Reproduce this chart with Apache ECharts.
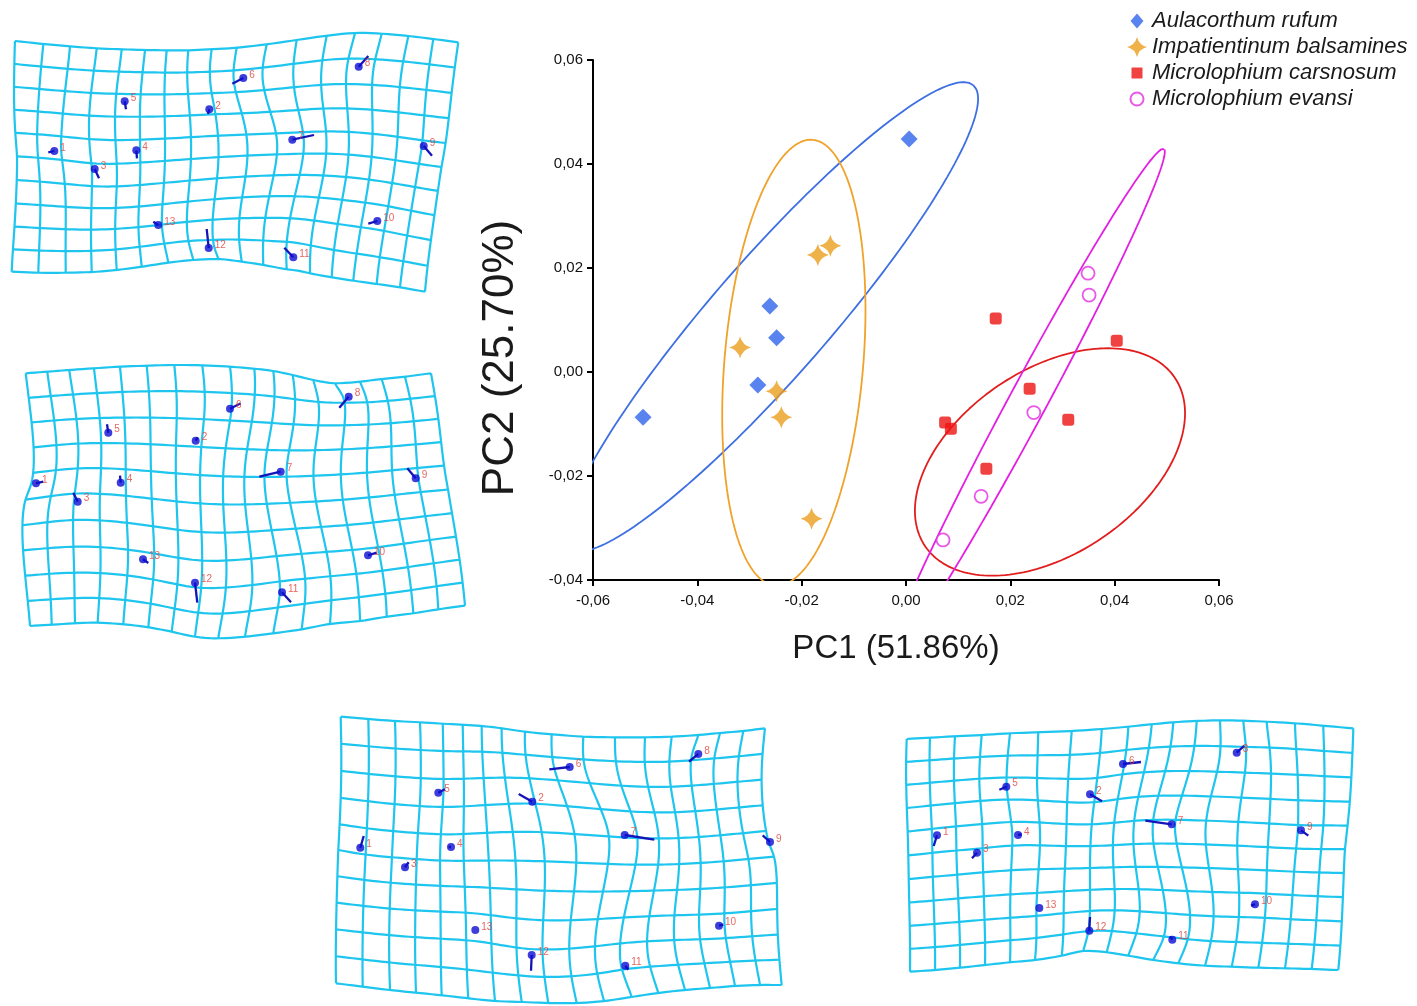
<!DOCTYPE html>
<html><head><meta charset="utf-8">
<script src="https://cdn.jsdelivr.net/npm/echarts/dist/echarts.min.js"></script>
<style>html,body{margin:0;padding:0;background:#fff}#c{width:1417px;height:1006px}</style>
</head><body><div id="c"></div>
<script>
// ---------- PCA scatter: [PC1, PC2] ----------
const seriesNames = ['Aulacorthum rufum', 'Impatientinum balsamines', 'Microlophium carsnosum', 'Microlophium evansi'];
const aulacorthum = [[0.0006,0.0448],[-0.0261,0.0127],[-0.0248,0.0066],[-0.0284,-0.0025],[-0.0504,-0.0087]];
const impatientinum = [[-0.0145,0.0243],[-0.0169,0.0225],[-0.0318,0.0047],[-0.0248,-0.0037],[-0.0239,-0.0087],[-0.0181,-0.0282]];
const carsnosum = [[0.0172,0.0103],[0.0404,0.0060],[0.0237,-0.0032],[0.0075,-0.0097],[0.0086,-0.0109],[0.0311,-0.0092],[0.0154,-0.0186]];
const evansi = [[0.0349,0.0190],[0.0351,0.0148],[0.0245,-0.0078],[0.0144,-0.0239],[0.0071,-0.0323]];
// confidence ellipses: [centre PC1, centre PC2, semi-major, semi-minor, angle (deg)]
const ellipseAulacorthum = [-0.0258, 0.0106, 0.059, 0.0112, 49];
const ellipseImpatientinum = [-0.0215, 0.0018, 0.043, 0.0133, 85.2];
const ellipseCarsnosum = [0.0276, -0.0173, 0.0289, 0.0177, 34.2];
const ellipseEvansi = [0.0232, -0.0060, 0.0555, 0.0036, 61.8];
const xTicks = [-0.06, -0.04, -0.02, 0, 0.02, 0.04, 0.06];
const yTicks = [-0.04, -0.02, 0, 0.02, 0.04, 0.06];

// ---------- deformation grids (values read in each panel's own frame) ----------
const p1Top = [[15,41],[43.3,44],[70,46.3],[96.7,48.3],[121.7,49.3],[145,50],[166.7,50.3],[188.3,50.3],[211.7,49.3],[236.7,47.7],[266.7,44.3],[296.7,40],[326.7,35.7],[355,33],[381.7,33.7],[408.3,36],[433.3,39],[458.3,42.3]];
const p1Bottom = [[11.7,271.7],[38.3,272.7],[65.7,272.7],[91.7,272],[116.7,270],[141.7,266.7],[168.3,262.7],[193.3,260],[218.3,259],[241.7,261.7],[263.3,265],[286.7,269.3],[310,273.3],[331.7,277.3],[353.3,280.7],[376.7,284],[400,287.3],[425,291.7]];
const p1Sides = [[17,156.4],[441.5,167]];
const p1Dots = [[54.3,151],[209.3,109.3],[94.7,169],[136.3,150.3],[124.7,101.3],[243.3,78],[292.3,139.7],[358.7,66.7],[423.7,146],[377.3,221],[293.3,257.3],[208.7,248],[158.3,225]];
const p1Ends = [[48.3,152.3],[208,114],[99,178.3],[137,158.3],[126,109.3],[232.3,83.7],[314,135],[368.3,56],[432,155.7],[368.3,223.7],[284.3,247.7],[206.7,229],[153.3,221.7]];

const p2Top = [[25.7,373.3],[47.3,371.7],[69.3,370],[94,368.3],[120,366.7],[146.7,365.7],[174.3,365],[202.3,365.3],[230,366.7],[254.3,368.7],[273.3,371],[292.7,375],[313.3,380],[335,383.3],[360,381.7],[381.7,379],[405,376.7],[431,373.3]];
const p2Bottom = [[30,626],[51.7,624.7],[75,623.3],[97.7,622.7],[123.3,624.3],[148.3,627.3],[171.7,631.7],[195,636.7],[218.3,638.3],[245,636.7],[273.3,633.3],[301.7,629.3],[330,624],[360,621],[386.7,616.7],[413.3,613.3],[438.3,609.3],[465,605.7]];
const p2Sides = [[25.5,499.7],[448,489.5]];
const p2Dots = [[36,483.3],[195.7,440.7],[77.7,501.7],[120.7,482.7],[108.3,432.7],[230,408.7],[280.7,471.7],[348.7,396.7],[415.7,478.3],[368,555.3],[282,592.3],[195,582.7],[143,559.3]];
const p2Ends = [[43.3,481.7],[197.7,437.3],[73.3,492.7],[120,475.7],[107,424.3],[240.7,403.3],[259.3,476.7],[339.3,407.7],[407.3,468.3],[376.7,552.7],[291,602.3],[197.3,602.7],[148.3,563]];

const p3Top = [[340.7,716.7],[368.3,719],[395,721],[420,722.3],[442.7,723.7],[462.7,724.7],[481.7,726],[501.7,728.3],[525,731.7],[551.7,734.3],[583.3,736.7],[615,737.3],[645,737.3],[671.7,736.7],[698.3,735],[720,733],[743.3,731],[765,728.3]];
const p3Bottom = [[336,983.3],[362.7,986.7],[390,990],[416,992.7],[441.7,995.3],[468.3,998.3],[495,1001],[521.7,1002],[548.3,1003],[576.7,1003],[604,1001],[631.7,997],[658.3,993],[685,990],[710,988],[735,986],[760,985],[781.7,985]];
const p3Sides = [[338.3,850],[774,856.7]];
const p3Dots = [[360.3,847.7],[532.3,801.7],[405,867.3],[451,847],[438.3,792.7],[569.7,767],[624.7,835],[698.3,754],[770,842],[719,925.7],[625.3,965.7],[531.7,955],[475.3,930]];
const p3Ends = [[363.7,836],[518.7,794],[408.7,862.3],[448.7,847],[445,789.3],[549.3,769.3],[654.3,839.7],[689,761.7],[762.7,835.3],[723.3,924.7],[628.3,969.7],[531,970.7],[475.3,930]];

const p4Top = [[906.7,739],[930,737.7],[955,736.3],[981.7,735],[1010,733.3],[1038.3,732.3],[1071.7,731],[1101.7,729],[1128.3,726.7],[1151.7,724.3],[1173.3,722.3],[1196.7,721],[1220,720.3],[1243.3,720.7],[1266.7,721.7],[1295,723.3],[1323.3,725.7],[1353.3,728.3]];
const p4Bottom = [[910,971.7],[935,970],[960,967.7],[985,965],[1010,962.3],[1035,960],[1061.7,955.7],[1083.3,951],[1106.7,952.3],[1128.3,955.7],[1153.3,960],[1178.3,963.3],[1205,965.7],[1231.7,966.7],[1258.3,967.7],[1285,968.3],[1311.7,969],[1338.3,970]];
const p4Sides = [[908.3,855.4],[1345,849.2]];
const p4Dots = [[937,835.3],[1090,794.3],[977,852.7],[1018,835],[1006.3,786.7],[1123,764],[1171.7,824.3],[1236.7,752.7],[1301,830.3],[1255,904.3],[1172.3,939.7],[1089.3,930.7],[1039.3,908]];
const p4Ends = [[933.7,846],[1102,801.3],[972,858.3],[1021.7,834.3],[999.3,789.7],[1141,762],[1145.3,820.7],[1244.3,745.7],[1308.3,835.7],[1251,905.7],[1170,936.3],[1090,917],[1039.3,908]];

const GRID_ROWS = 10;
const STICK_GAIN = 0.6;

// ---------- thin-plate spline ----------
function solveLinear(A, rhs) {
  const n = A.length, m = rhs.length;
  const M = A.map((row, i) => row.concat(rhs.map(v => v[i])));
  for (let c = 0; c < n; c++) {
    let p = c;
    for (let r = c + 1; r < n; r++) if (Math.abs(M[r][c]) > Math.abs(M[p][c])) p = r;
    const t = M[c]; M[c] = M[p]; M[p] = t;
    const piv = M[c][c];
    for (let r = 0; r < n; r++) {
      if (r === c) continue;
      const f = M[r][c] / piv;
      if (f === 0) continue;
      for (let k = c; k < n + m; k++) M[r][k] -= f * M[c][k];
    }
  }
  return rhs.map((_, j) => M.map((row, i) => row[n + j] / row[i]));
}
function makeTPS(src, dst) {
  const n = src.length, S = 100, ox = src[0][0], oy = src[0][1];
  const s = src.map(p => [(p[0] - ox) / S, (p[1] - oy) / S]);
  const U = r2 => r2 > 1e-12 ? r2 * Math.log(r2) : 0;
  const N = n + 3, A = [];
  for (let i = 0; i < N; i++) A.push(new Array(N).fill(0));
  for (let i = 0; i < n; i++) {
    for (let j = 0; j < n; j++) {
      const dx = s[i][0] - s[j][0], dy = s[i][1] - s[j][1];
      A[i][j] = U(dx * dx + dy * dy);
    }
    A[i][n] = 1; A[i][n + 1] = s[i][0]; A[i][n + 2] = s[i][1];
    A[n][i] = 1; A[n + 1][i] = s[i][0]; A[n + 2][i] = s[i][1];
  }
  const bx = dst.map(p => p[0]).concat([0, 0, 0]);
  const by = dst.map(p => p[1]).concat([0, 0, 0]);
  const [wx, wy] = solveLinear(A, [bx, by]);
  return (x, y) => {
    const px = (x - ox) / S, py = (y - oy) / S;
    let fx = wx[n] + wx[n + 1] * px + wx[n + 2] * py;
    let fy = wy[n] + wy[n + 1] * px + wy[n + 2] * py;
    for (let i = 0; i < n; i++) {
      const dx = px - s[i][0], dy = py - s[i][1];
      const u = U(dx * dx + dy * dy);
      fx += wx[i] * u; fy += wy[i] * u;
    }
    return [fx, fy];
  };
}
function gridLines(panel) {
  const [L, T, R, B] = panel.rect;
  const nc = panel.top.length - 1;
  const src = [], dst = [];
  panel.top.forEach((p, i) => { src.push([L + (R - L) * i / nc, T]); dst.push(p); });
  panel.bottom.forEach((p, i) => { src.push([L + (R - L) * i / nc, B]); dst.push(p); });
  src.push([L, (T + B) / 2]); dst.push(panel.sides[0]);
  src.push([R, (T + B) / 2]); dst.push(panel.sides[1]);
  panel.dots.forEach((d, i) => {
    const e = panel.ends[i];
    src.push([d[0] - STICK_GAIN * (e[0] - d[0]), d[1] - STICK_GAIN * (e[1] - d[1])]);
    dst.push(d);
  });
  const f = makeTPS(src, dst);
  const out = [], K = 80;
  for (let r = 0; r <= GRID_ROWS; r++) {
    const y = T + (B - T) * r / GRID_ROWS, c = [];
    for (let k = 0; k <= K; k++) c.push(f(L + (R - L) * k / K, y));
    out.push({ coords: c });
  }
  for (let q = 0; q <= nc; q++) {
    const x = L + (R - L) * q / nc, c = [];
    for (let k = 0; k <= K; k++) c.push(f(x, T + (B - T) * k / K));
    out.push({ coords: c });
  }
  return out;
}
function ellipsePoints(e) {
  const [cx, cy, a, b, deg] = e, th = deg * Math.PI / 180, pts = [];
  for (let k = 0; k <= 360; k += 2) {
    const t = k * Math.PI / 180;
    pts.push([cx + a * Math.cos(t) * Math.cos(th) - b * Math.sin(t) * Math.sin(th),
              cy + a * Math.cos(t) * Math.sin(th) + b * Math.sin(t) * Math.cos(th)]);
  }
  return pts;
}

const panels = [
  { top: p1Top, bottom: p1Bottom, sides: p1Sides, dots: p1Dots, ends: p1Ends, rect: [14, 43, 442, 273], box: [0, 25, 470, 280] },
  { top: p2Top, bottom: p2Bottom, sides: p2Sides, dots: p2Dots, ends: p2Ends, rect: [27, 372, 448, 626], box: [10, 355, 470, 290] },
  { top: p3Top, bottom: p3Bottom, sides: p3Sides, dots: p3Dots, ends: p3Ends, rect: [338, 729, 773, 993], box: [325, 700, 470, 306] },
  { top: p4Top, bottom: p4Bottom, sides: p4Sides, dots: p4Dots, ends: p4Ends, rect: [908, 728, 1345, 963], box: [895, 710, 470, 275] }
];

const FONT = "'Liberation Sans', Arial, Helvetica, sans-serif";
const fmt = v => (Math.abs(v) < 1e-9 ? 0 : v).toFixed(2).replace('.', ',');

const grids = [{ left: 593, top: 60, width: 626, height: 520 }];
const xAxes = [{
  type: 'value', gridIndex: 0, min: xTicks[0], max: xTicks[xTicks.length - 1], interval: 0.02,
  axisLine: { show: true, onZero: false, lineStyle: { color: '#000', width: 2 } },
  axisTick: { show: true, length: 6, lineStyle: { color: '#000', width: 2 } },
  axisLabel: { formatter: fmt, fontSize: 15, color: '#111', margin: 13, fontFamily: FONT },
  splitLine: { show: false },
  name: 'PC1 (51.86%)', nameLocation: 'middle', nameGap: 52,
  nameTextStyle: { fontSize: 33, color: '#1a1a1a', fontFamily: FONT, padding: [0, 20, 0, 0] }
}];
const yAxes = [{
  type: 'value', gridIndex: 0, min: yTicks[0], max: yTicks[yTicks.length - 1], interval: 0.02,
  axisLine: { show: true, onZero: false, lineStyle: { color: '#000', width: 2 } },
  axisTick: { show: true, length: 6, lineStyle: { color: '#000', width: 2 } },
  axisLabel: { formatter: fmt, fontSize: 15, color: '#111', margin: 10, fontFamily: FONT },
  splitLine: { show: false },
  name: 'PC2 (25.70%)', nameLocation: 'middle', nameGap: 70, nameRotate: 90,
  nameTextStyle: { fontSize: 44, color: '#1a1a1a', fontFamily: FONT, padding: [0, 76, 0, 0] }
}];

const series = [];
const ellipses = [
  [ellipseAulacorthum, '#3d6fe3'], [ellipseImpatientinum, '#f0a22a'],
  [ellipseCarsnosum, '#e21d1d'], [ellipseEvansi, '#e31fe3']
];
ellipses.forEach(([e, col], i) => series.push({
  type: 'line', name: 'ellipse' + i, xAxisIndex: 0, yAxisIndex: 0, data: ellipsePoints(e),
  showSymbol: false, symbol: 'none', clip: true, silent: true, z: 2,
  lineStyle: { color: col, width: 1.8 }
}));
const STAR = 'path://M10,0 Q12,8 20,10 Q12,12 10,20 Q8,12 0,10 Q8,8 10,0 Z';
const LEG_DIAMOND = 'path://M0,0 M20,20 M10,2.5 L16.5,10 L10,17.5 L3.5,10 Z';
const LEG_SQUARE = 'path://M0,0 M20,20 M5,4.5 L15,4.5 Q15.5,4.5 15.5,5 L15.5,15 Q15.5,15.5 15,15.5 L5,15.5 Q4.5,15.5 4.5,15 L4.5,5 Q4.5,4.5 5,4.5 Z';
const LEG_CIRCLE = 'path://M0,0 M20,20 M16.5,10 A6.5,6.5 0 1 1 3.5,10 A6.5,6.5 0 1 1 16.5,10 Z';
series.push(
  { type: 'scatter', name: seriesNames[0], xAxisIndex: 0, yAxisIndex: 0, data: aulacorthum, symbol: 'diamond', symbolSize: [17, 17], itemStyle: { color: '#2f64ea' }, z: 4 },
  { type: 'scatter', name: seriesNames[1], xAxisIndex: 0, yAxisIndex: 0, data: impatientinum, symbol: STAR, symbolSize: [22, 22], itemStyle: { color: '#eb9d1c' }, z: 4 },
  { type: 'scatter', name: seriesNames[2], xAxisIndex: 0, yAxisIndex: 0, data: carsnosum, symbol: 'roundRect', symbolSize: [12, 12], itemStyle: { color: '#ee1313' }, z: 4 },
  { type: 'scatter', name: seriesNames[3], xAxisIndex: 0, yAxisIndex: 0, data: evansi, symbol: 'circle', symbolSize: 13, itemStyle: { color: '#ffffff', borderColor: '#e230e2', borderWidth: 1.8 }, z: 4 }
);

panels.forEach((p, k) => {
  const gi = k + 1;
  const [bl, bt, bw, bh] = p.box;
  grids.push({ left: bl, top: bt, width: bw, height: bh });
  xAxes.push({ type: 'value', gridIndex: gi, min: bl, max: bl + bw, show: false });
  yAxes.push({ type: 'value', gridIndex: gi, min: bt, max: bt + bh, inverse: true, show: false });
  series.push({
    type: 'lines', coordinateSystem: 'cartesian2d', xAxisIndex: gi, yAxisIndex: gi, polyline: true,
    data: gridLines(p), silent: true, z: 1,
    lineStyle: { color: '#1ec5ee', width: 2.2, opacity: 1 }
  });
  series.push({
    type: 'lines', coordinateSystem: 'cartesian2d', xAxisIndex: gi, yAxisIndex: gi,
    data: p.dots.map((d, i) => ({ coords: [d, p.ends[i]] })), silent: true, z: 2,
    lineStyle: { color: '#1414b8', width: 2.3, opacity: 1 }
  });
  series.push({
    type: 'scatter', xAxisIndex: gi, yAxisIndex: gi, data: p.dots, symbol: 'circle', symbolSize: 8,
    itemStyle: { color: '#0d0dd2' }, silent: true, z: 3,
    label: { show: true, position: 'right', distance: 2, offset: [0, -3], fontSize: 10, color: '#e0403a', fontFamily: FONT,
             formatter: prm => String(prm.dataIndex + 1) }
  });
});

const chart = echarts.init(document.getElementById('c'), null, { renderer: 'canvas' });
chart.setOption({
  animation: false,
  backgroundColor: '#ffffff',
  legend: {
    data: [
      { name: seriesNames[0], icon: LEG_DIAMOND },
      { name: seriesNames[1], icon: STAR },
      { name: seriesNames[2], icon: LEG_SQUARE },
      { name: seriesNames[3], icon: LEG_CIRCLE }
    ],
    orient: 'vertical', left: 1126, top: 10, itemWidth: 20, itemHeight: 20, itemGap: 4, padding: 0,
    textStyle: { fontSize: 22, fontStyle: 'italic', color: '#1a1a1a', fontFamily: FONT }
  },
  grid: grids, xAxis: xAxes, yAxis: yAxes, series: series
});
</script></body></html>
